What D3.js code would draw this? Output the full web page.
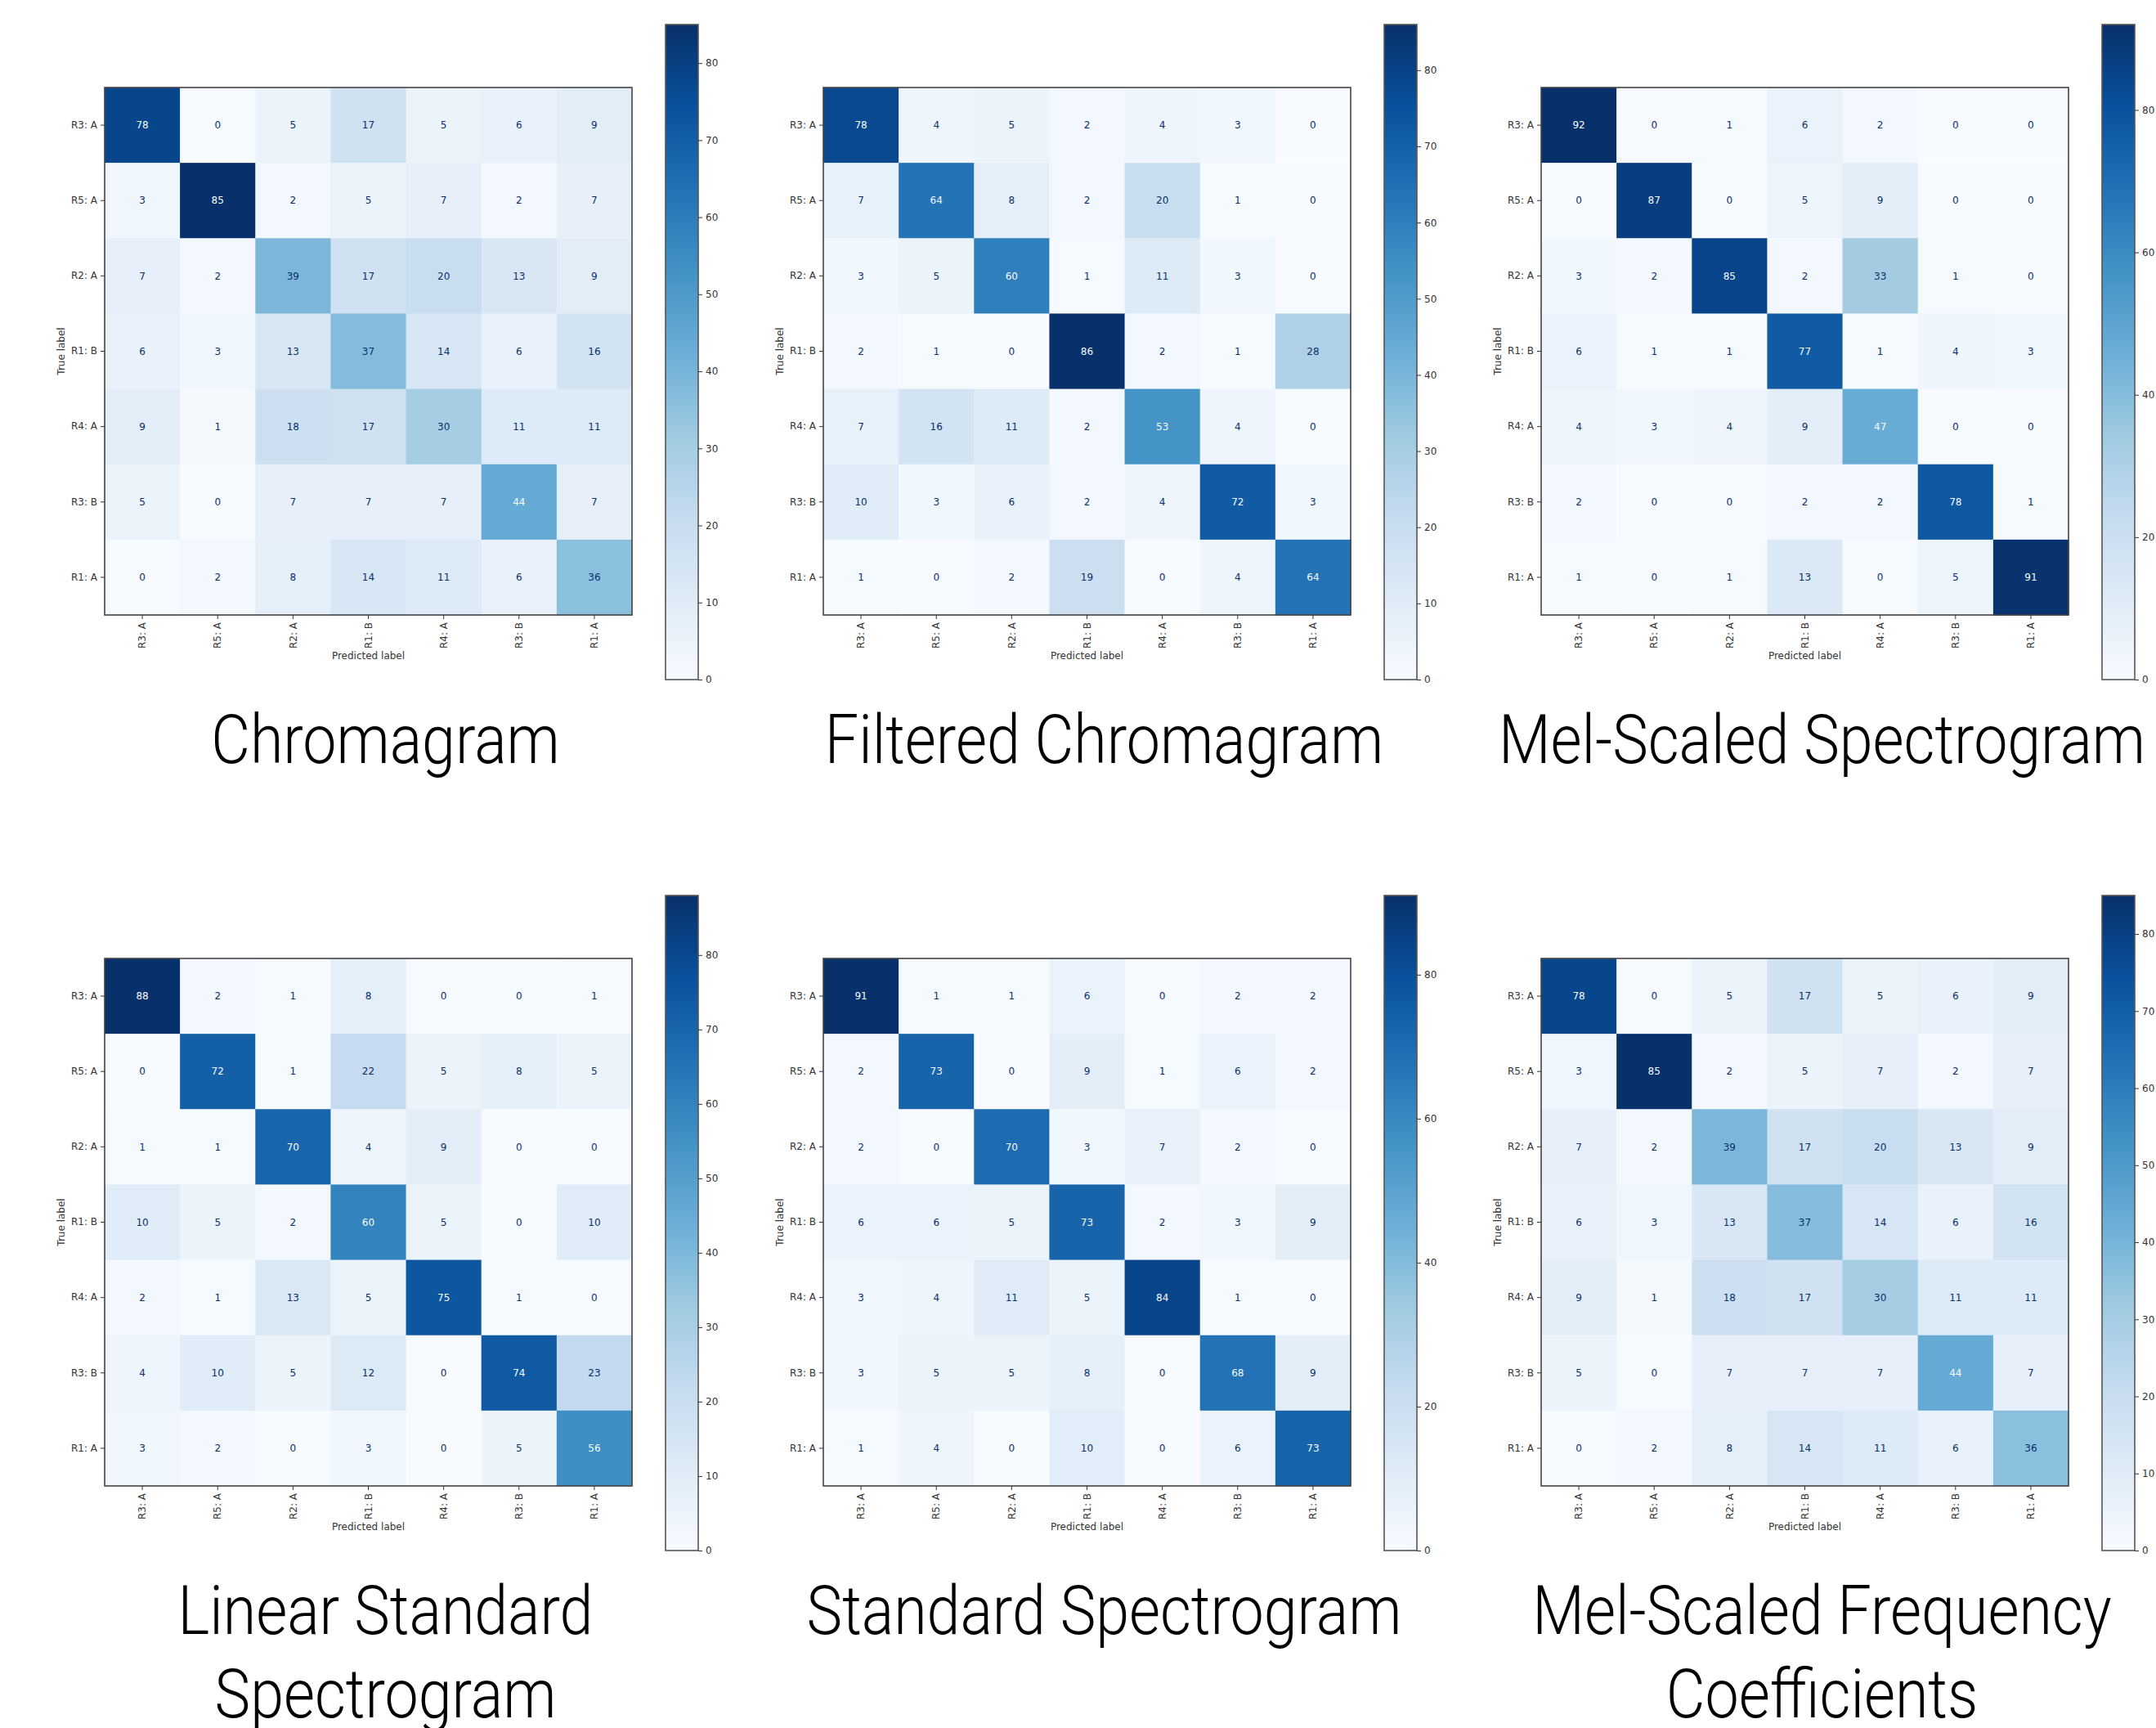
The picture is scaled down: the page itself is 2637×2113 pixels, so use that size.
<!DOCTYPE html>
<html>
<head>
<meta charset="utf-8">
<script src="https://cdn.jsdelivr.net/npm/d3@7"></script>
<style>
  html, body { margin: 0; padding: 0; background: #fff; }
  svg { display: block; }
  .tick text { font-family: "DejaVu Sans", sans-serif; font-size: 12px; fill: #333; }
  .tick line { stroke: #333; }
  .domain { stroke: none; }
  .cell-text { font-family: "DejaVu Sans", sans-serif; font-size: 12px; }
  .axis-label { font-family: "DejaVu Sans", sans-serif; font-size: 12px; fill: #333; }
  .title { font-family: Roboto, sans-serif; font-weight: 300; font-size: 84px; fill: #000; }
</style>
</head>
<body>
<svg id="chart"></svg>
<script>
// class labels, same order for rows (true) and columns (predicted)
const classes = ['R3: A', 'R5: A', 'R2: A', 'R1: B', 'R4: A', 'R3: B', 'R1: A'];

// confusion matrices, rows = true label
const chromagram = [
  [78, 0, 5, 17, 5, 6, 9],
  [3, 85, 2, 5, 7, 2, 7],
  [7, 2, 39, 17, 20, 13, 9],
  [6, 3, 13, 37, 14, 6, 16],
  [9, 1, 18, 17, 30, 11, 11],
  [5, 0, 7, 7, 7, 44, 7],
  [0, 2, 8, 14, 11, 6, 36]
];
const filteredChromagram = [
  [78, 4, 5, 2, 4, 3, 0],
  [7, 64, 8, 2, 20, 1, 0],
  [3, 5, 60, 1, 11, 3, 0],
  [2, 1, 0, 86, 2, 1, 28],
  [7, 16, 11, 2, 53, 4, 0],
  [10, 3, 6, 2, 4, 72, 3],
  [1, 0, 2, 19, 0, 4, 64]
];
const melSpectrogram = [
  [92, 0, 1, 6, 2, 0, 0],
  [0, 87, 0, 5, 9, 0, 0],
  [3, 2, 85, 2, 33, 1, 0],
  [6, 1, 1, 77, 1, 4, 3],
  [4, 3, 4, 9, 47, 0, 0],
  [2, 0, 0, 2, 2, 78, 1],
  [1, 0, 1, 13, 0, 5, 91]
];
const linearSpectrogram = [
  [88, 2, 1, 8, 0, 0, 1],
  [0, 72, 1, 22, 5, 8, 5],
  [1, 1, 70, 4, 9, 0, 0],
  [10, 5, 2, 60, 5, 0, 10],
  [2, 1, 13, 5, 75, 1, 0],
  [4, 10, 5, 12, 0, 74, 23],
  [3, 2, 0, 3, 0, 5, 56]
];
const standardSpectrogram = [
  [91, 1, 1, 6, 0, 2, 2],
  [2, 73, 0, 9, 1, 6, 2],
  [2, 0, 70, 3, 7, 2, 0],
  [6, 6, 5, 73, 2, 3, 9],
  [3, 4, 11, 5, 84, 1, 0],
  [3, 5, 5, 8, 0, 68, 9],
  [1, 4, 0, 10, 0, 6, 73]
];
const mfcc = [
  [78, 0, 5, 17, 5, 6, 9],
  [3, 85, 2, 5, 7, 2, 7],
  [7, 2, 39, 17, 20, 13, 9],
  [6, 3, 13, 37, 14, 6, 16],
  [9, 1, 18, 17, 30, 11, 11],
  [5, 0, 7, 7, 7, 44, 7],
  [0, 2, 8, 14, 11, 6, 36]
];

// colorbar tick labels
const ticksBy10 = [0, 10, 20, 30, 40, 50, 60, 70, 80];
const ticksBy20 = [0, 20, 40, 60, 80];

// panel titles (one entry per line)
const titles = [
  ['Chromagram'],
  ['Filtered Chromagram'],
  ['Mel-Scaled Spectrogram'],
  ['Linear Standard', 'Spectrogram'],
  ['Standard Spectrogram'],
  ['Mel-Scaled Frequency', 'Coefficients']
];

const matrices = [chromagram, filteredChromagram, melSpectrogram,
  linearSpectrogram, standardSpectrogram, mfcc];
const colorTicks = [ticksBy10, ticksBy10, ticksBy20, ticksBy10, ticksBy20, ticksBy10];

// matplotlib "Blues" (ColorBrewer 9 classes, linear segments)
const blues = ['#f7fbff', '#deebf7', '#c6dbef', '#9ecae1', '#6baed6',
  '#4292c6', '#2171b5', '#08519c', '#08306b'];

// layout
const W = 2637, H = 2113;
const colLeft = [128, 1007, 1885];
const rowTop = [107, 1172];
const size = 645;
const cbOffsetX = 686, cbOffsetY = -77, cbWidth = 40, cbHeight = 801;
const titleBaseline = 826, titleShift = 21, lineGap = 102;
const titleSquash = 0.875;

const svg = d3.select('#chart').attr('width', W).attr('height', H);
const defs = svg.append('defs');

const grad = defs.append('linearGradient')
  .attr('id', 'bluesGrad')
  .attr('x1', 0).attr('y1', 1).attr('x2', 0).attr('y2', 0);
blues.forEach((c, i) => {
  grad.append('stop').attr('offset', i / (blues.length - 1)).attr('stop-color', c);
});

matrices.forEach((m, p) => {
  const left = colLeft[p % 3];
  const top = rowTop[Math.floor(p / 3)];
  const vmax = d3.max(m.flat());
  const vmin = d3.min(m.flat());

  const color = d3.scaleLinear()
    .domain(blues.map((_, i) => vmin + (vmax - vmin) * i / (blues.length - 1)))
    .range(blues)
    .interpolate(d3.interpolateRgb);
  const thresh = (vmax + vmin) / 2;

  const x = d3.scaleBand().domain(classes).range([0, size]);
  const y = d3.scaleBand().domain(classes).range([0, size]);

  const g = svg.append('g').attr('transform', `translate(${left},${top})`);

  // cells
  const cells = [];
  m.forEach((row, i) => row.forEach((v, j) => cells.push({ r: classes[i], c: classes[j], v })));

  g.selectAll('.cell')
    .data(cells)
    .enter().append('rect')
    .attr('class', 'cell')
    .attr('x', d => x(d.c))
    .attr('y', d => y(d.r))
    .attr('width', x.bandwidth() + 0.5)
    .attr('height', y.bandwidth() + 0.5)
    .attr('fill', d => color(d.v));

  g.selectAll('.cell-text')
    .data(cells)
    .enter().append('text')
    .attr('class', 'cell-text')
    .attr('x', d => x(d.c) + x.bandwidth() / 2)
    .attr('y', d => y(d.r) + y.bandwidth() / 2)
    .attr('dy', '0.35em')
    .attr('text-anchor', 'middle')
    .attr('fill', d => d.v < thresh ? blues[blues.length - 1] : blues[0])
    .text(d => d.v);

  // frame
  g.append('rect')
    .attr('width', size).attr('height', size)
    .attr('fill', 'none').attr('stroke', '#444').attr('stroke-width', 1.6);

  // axes
  g.append('g')
    .call(d3.axisLeft(y).tickSize(5).tickPadding(4));

  const xAxis = g.append('g')
    .attr('transform', `translate(0,${size})`)
    .call(d3.axisBottom(x).tickSize(5).tickPadding(4));
  xAxis.selectAll('text')
    .attr('transform', 'rotate(-90)')
    .attr('text-anchor', 'end')
    .attr('x', -9)
    .attr('y', 0)
    .attr('dy', '0.35em');

  g.append('text')
    .attr('class', 'axis-label')
    .attr('x', size / 2)
    .attr('y', size + 54)
    .attr('text-anchor', 'middle')
    .text('Predicted label');

  g.append('text')
    .attr('class', 'axis-label')
    .attr('transform', `translate(-49,${size / 2}) rotate(-90)`)
    .attr('text-anchor', 'middle')
    .text('True label');

  // colorbar
  const cb = g.append('g').attr('transform', `translate(${cbOffsetX},${cbOffsetY})`);
  const cbScale = d3.scaleLinear().domain([vmin, vmax]).range([cbHeight, 0]);
  cb.append('rect')
    .attr('width', cbWidth).attr('height', cbHeight)
    .attr('fill', 'url(#bluesGrad)')
    .attr('stroke', '#555').attr('stroke-width', 1.6);
  cb.append('g')
    .attr('transform', `translate(${cbWidth},0)`)
    .call(d3.axisRight(cbScale).tickValues(colorTicks[p]).tickSize(5).tickPadding(4));

  // title
  const tx = left + size / 2 + titleShift;
  const title = svg.append('text')
    .attr('class', 'title')
    .attr('text-anchor', 'middle')
    .attr('transform', `translate(${tx},${top + titleBaseline}) scale(${titleSquash},1)`);
  titles[p].forEach((line, k) => {
    title.append('tspan')
      .attr('x', 0)
      .attr('y', k * lineGap)
      .text(line);
  });
});
</script>
</body>
</html>
